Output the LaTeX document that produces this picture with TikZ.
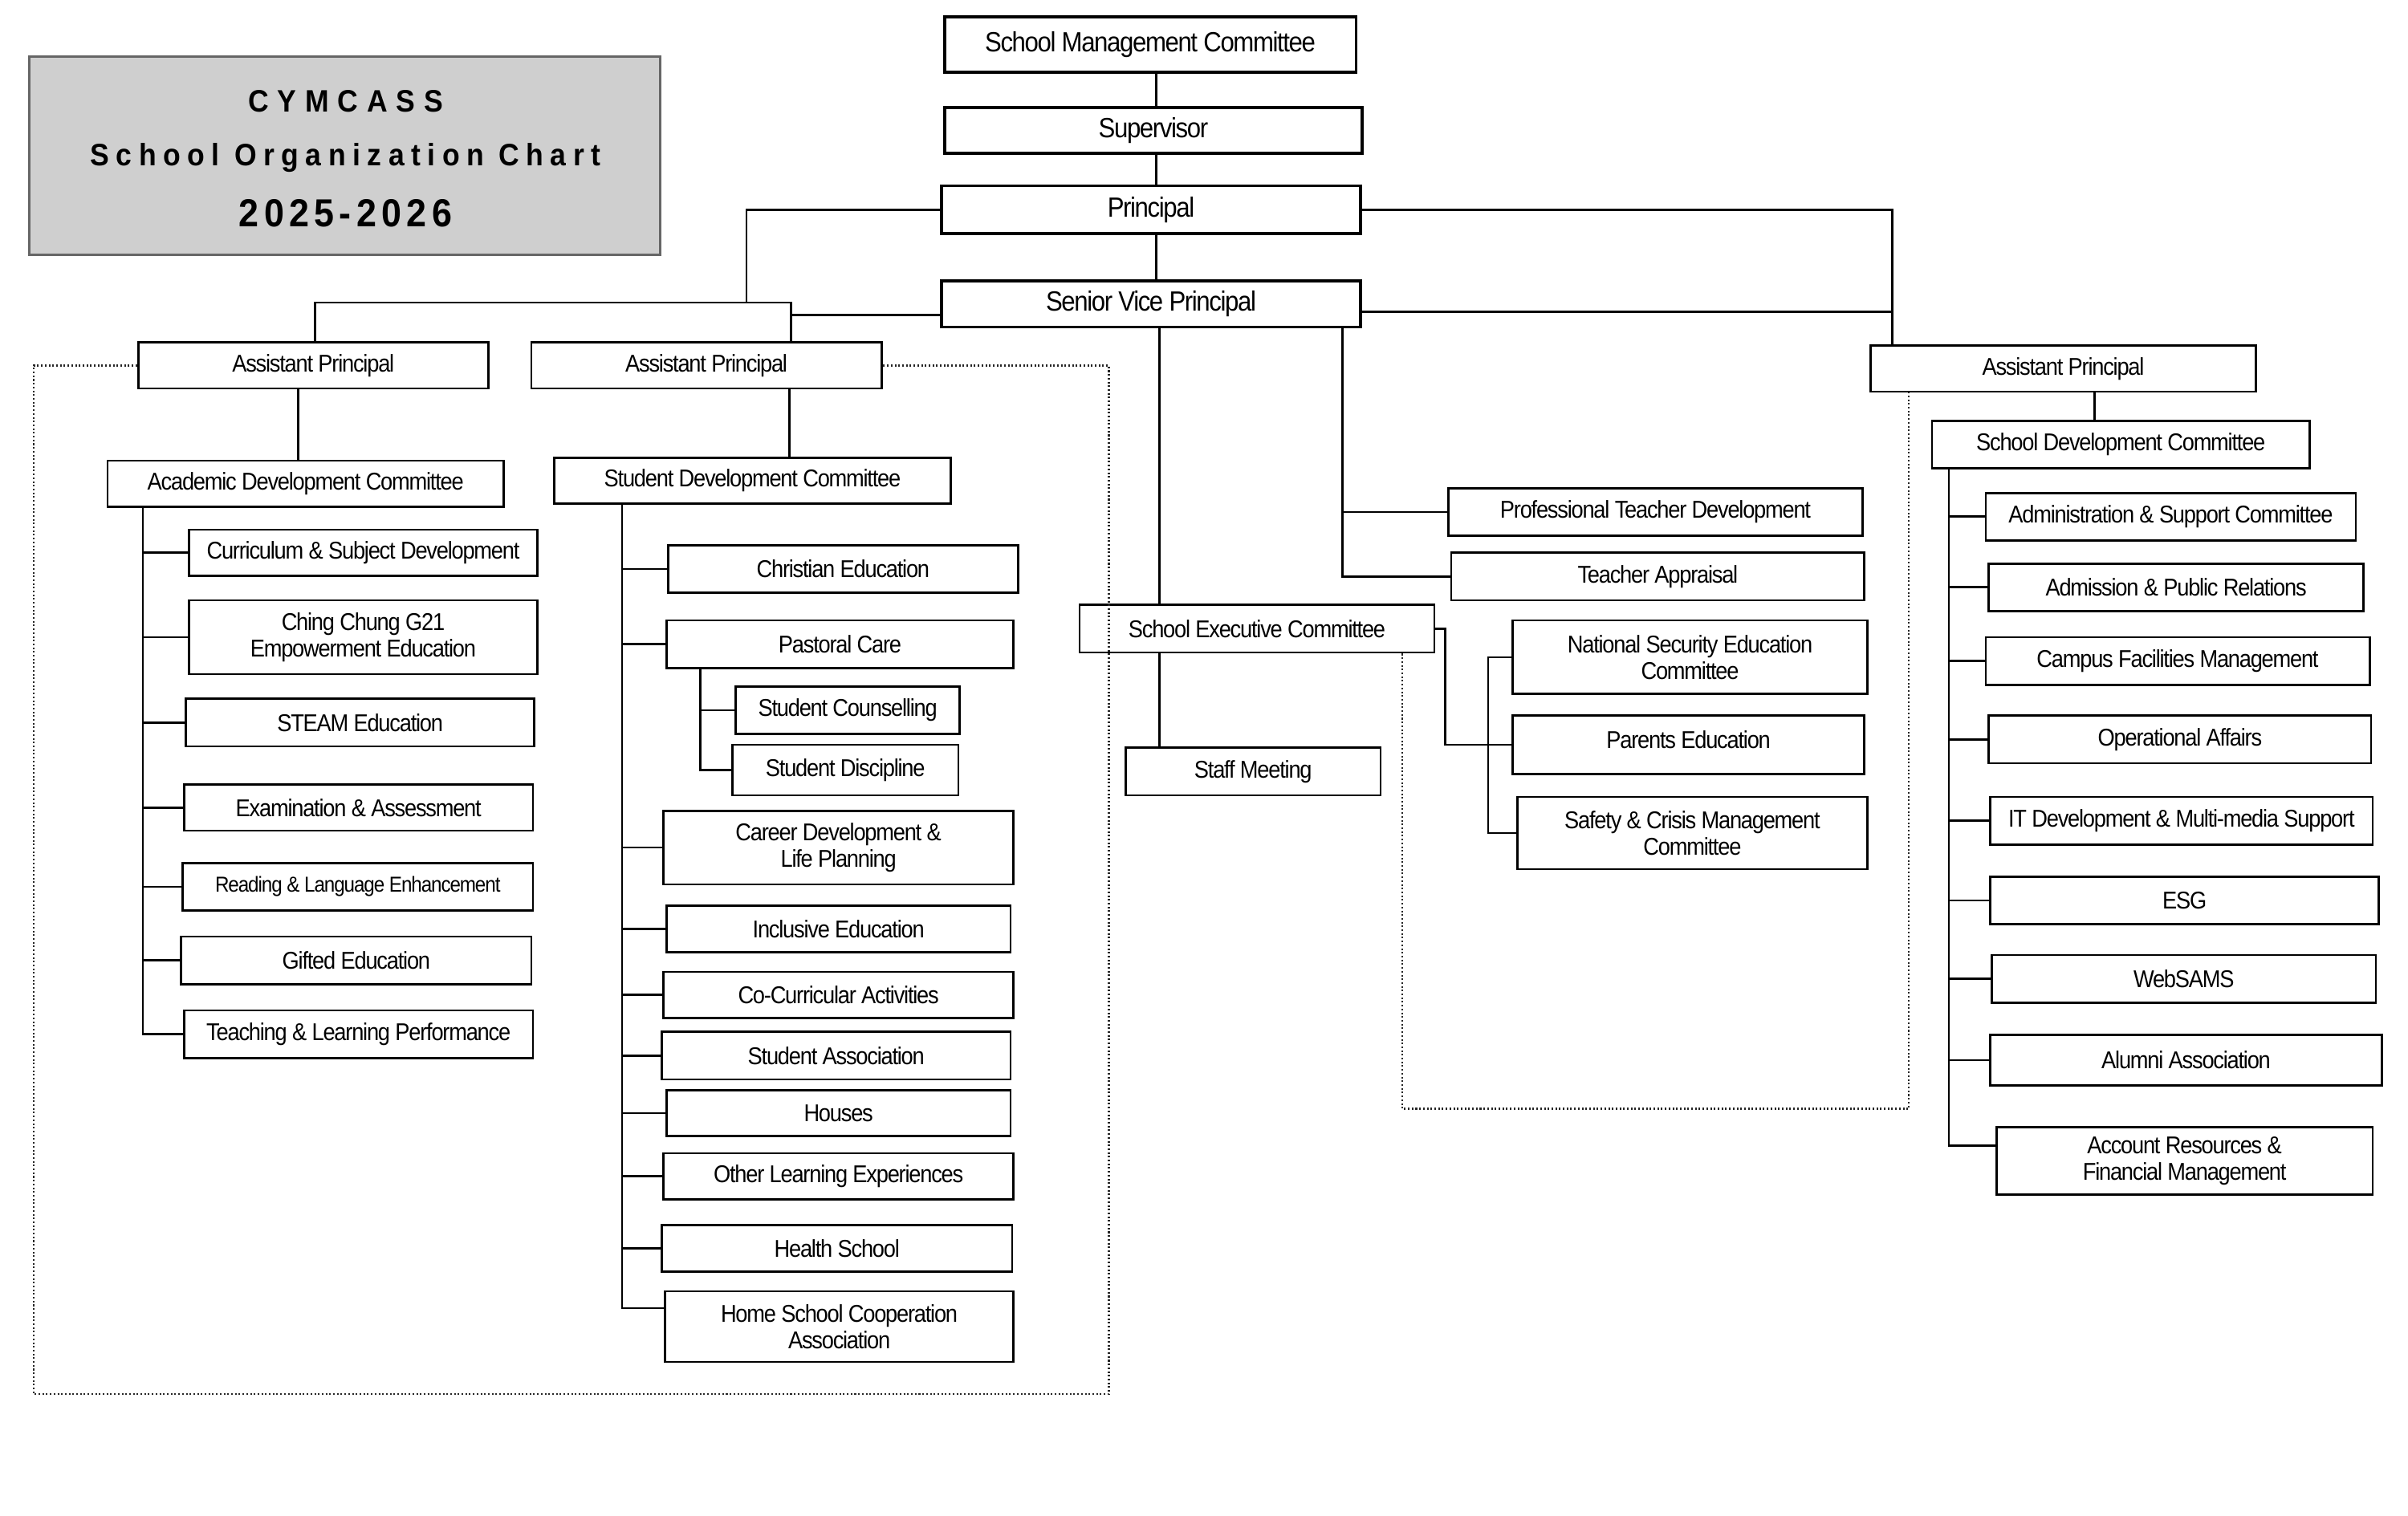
\documentclass[tikz,border=0pt]{standalone}
\usepackage{fontspec}
\setmainfont{Liberation Sans}[FakeStretch=0.9,LetterSpace=-4]
\newfontfamily\ttlfont{Liberation Sans}[FakeStretch=0.92]
\newcommand\obox[7][]{\node[box,#1,minimum width={(#4-#2)*0.02cm},minimum height={(#5-#3)*0.02cm}] (#6) at ({(#2+#4)/2},{(#3+#5)/2}) {#7};}
\begin{document}
\begin{tikzpicture}[x=0.02cm,y=-0.02cm,
  box/.style={draw,line width=0.8pt,inner sep=0pt,align=center,font=\fontsize{9}{9.8}\selectfont},
  topbox/.style={line width=1.1pt,font=\fontsize{10.3}{11}\selectfont},
  small/.style={font=\fontsize{8}{9}\selectfont},
  titlebox/.style={draw=black!60,fill=black!19,line width=1pt},
  conn/.style={line width=0.8pt},
  dotline/.style={draw=black!85,line width=0.7pt,dash pattern=on 0.6pt off 0.8pt}]
\useasboundingbox (0,0) rectangle (1568,987);

% title
\obox[titlebox]{19}{37}{430}{166}{ttl}{}
\node[font=\ttlfont\bfseries\fontsize{11.5}{12}\selectfont\addfontfeature{LetterSpace=28}] (t1) at (225,66) {CYMCASS};
\node[font=\ttlfont\bfseries\fontsize{11.5}{12}\selectfont\addfontfeature{LetterSpace=22}] (t2) at (225,103) {School Organization Chart};
\node[font=\ttlfont\bfseries\fontsize{14.5}{15}\selectfont\addfontfeature{LetterSpace=13}] (t3) at (225,139) {2025-2026};

% top column
\obox[topbox]{615}{11}{883}{47}{smc}{School Management Committee}
\obox[topbox]{615}{70}{887}{100}{sup}{Supervisor}
\obox[topbox]{613}{121}{886}{152}{pri}{Principal}
\obox[topbox]{613}{183}{886}{213}{svp}{Senior Vice Principal}
\coordinate (tx) at (753,0);
\draw[conn] (smc.south -| tx) -- (sup.north -| tx);
\draw[conn] (sup.south -| tx) -- (pri.north -| tx);
\draw[conn] (pri.south -| tx) -- (svp.north -| tx);

% assistant principals left
\obox{90}{223}{318}{253}{apa}{Assistant Principal}
\obox{346}{223}{574}{253}{apb}{Assistant Principal}
\coordinate (jP) at (486,197);
\coordinate (jL) at (205,197);
\coordinate (jR) at (515,197);
\draw[conn] (pri.west) -| (jP);
\draw[conn] (apa.north -| jL) -- (jL) -- (jR) -- (apb.north -| jR);
\draw[conn] ([yshift=-0.14cm]svp.west) -- ([yshift=-0.14cm]svp.west -| jR);

% academic development
\obox{70}{300}{328}{330}{adc}{Academic Development Committee}
\coordinate (ax) at (194,0);
\draw[conn] (apa.south -| ax) -- (adc.north -| ax);
\obox{123}{345}{350}{375}{a1}{Curriculum \& Subject Development}
\obox{123}{391}{350}{439}{a2}{Ching Chung G21\\ Empowerment Education}
\obox{121}{455}{348}{486}{a3}{STEAM Education}
\obox{120}{511}{347}{541}{a4}{Examination \& Assessment}
\obox[small]{119}{562}{347}{593}{a5}{Reading \& Language Enhancement}
\obox{118}{610}{346}{641}{a6}{Gifted Education}
\obox{120}{658}{347}{689}{a7}{Teaching \& Learning Performance}
\coordinate (as) at (93,330);
\foreach \c in {a1,a2,a3,a4,a5,a6,a7} {\draw[conn] (as) |- (\c.west);}

% student development
\obox{361}{298}{619}{328}{sdc}{Student Development Committee}
\coordinate (bx) at (514,0);
\draw[conn] (apb.south -| bx) -- (sdc.north -| bx);
\obox{435}{355}{663}{386}{b1}{Christian Education}
\obox{434}{404}{660}{435}{b2}{Pastoral Care}
\obox{479}{447}{625}{478}{b21}{Student Counselling}
\obox{477}{485}{624}{518}{b22}{Student Discipline}
\obox{432}{528}{660}{576}{b3}{Career Development \&\\ Life Planning}
\obox{434}{590}{658}{620}{b4}{Inclusive Education}
\obox{432}{633}{660}{663}{b5}{Co-Curricular Activities}
\obox{431}{672}{658}{703}{b6}{Student Association}
\obox{434}{710}{658}{740}{b7}{Houses}
\obox{432}{751}{660}{781}{b8}{Other Learning Experiences}
\obox{431}{798}{659}{828}{b9}{Health School}
\obox{433}{841}{660}{887}{b10}{Home School Cooperation\\ Association}
\coordinate (bs) at (405,328);
\foreach \c in {b1,b2,b3,b4,b5,b6,b7,b8,b9} {\draw[conn] (bs) |- (\c.west);}
\draw[conn] (bs) |- ([yshift=0.24cm]b10.west);
\coordinate (ps) at (456,0);
\draw[conn] (b2.south -| ps) |- (b21.west);
\draw[conn] (b2.south -| ps) |- (b22.west);

% senior vice principal branches
\obox{703}{394}{934}{425}{sec}{School Executive Committee}
\obox{733}{487}{899}{518}{stf}{Staff Meeting}
\coordinate (vx) at (755,0);
\draw[conn] (svp.south -| vx) -- (sec.north -| vx);
\draw[conn] (sec.south -| vx) -- (stf.north -| vx);
\obox{943}{318}{1213}{349}{ptd}{Professional Teacher Development}
\obox{945}{360}{1214}{391}{tap}{Teacher Appraisal}
\coordinate (wx) at (874,0);
\draw[conn] (svp.south -| wx) |- (tap.west);
\draw[conn] (ptd.west -| wx) -- (ptd.west);
\obox{985}{404}{1216}{452}{nse}{National Security Education\\ Committee}
\obox[text depth=0.14cm]{985}{466}{1214}{504}{par}{Parents Education}
\obox{988}{519}{1216}{566}{saf}{Safety \& Crisis Management\\ Committee}
\coordinate (sj) at (941,0);
\coordinate (nx) at (969,0);
\draw[conn] (sec.east) -| (par.west -| sj) -- (par.west);
\draw[conn] (nse.west) -- (nse.west -| nx) -- (saf.west -| nx) -- (saf.west);

% right assistant principal
\obox{1218}{225}{1469}{255}{apc}{Assistant Principal}
\coordinate (rx) at (1232,0);
\draw[conn] (pri.east) -| (apc.north -| rx);
\draw[conn] ([yshift=-0.1cm]svp.east) -- ([yshift=-0.1cm]svp.east -| rx);
\obox{1258}{274}{1504}{305}{sdv}{School Development Committee}
\coordinate (cx) at (1364,0);
\draw[conn] (apc.south -| cx) -- (sdv.north -| cx);
\obox{1293}{321}{1534}{352}{c1}{Administration \& Support Committee}
\obox{1295}{367}{1539}{398}{c2}{Admission \& Public Relations}
\obox{1293}{415}{1543}{446}{c3}{Campus Facilities Management}
\obox{1295}{466}{1544}{497}{c4}{Operational Affairs}
\obox{1296}{519}{1545}{550}{c5}{IT Development \& Multi-media Support}
\obox{1296}{571}{1549}{602}{c6}{ESG}
\obox{1297}{622}{1547}{653}{c7}{WebSAMS}
\obox{1296}{674}{1551}{707}{c8}{Alumni Association}
\obox{1300}{734}{1545}{778}{c9}{Account Resources \&\\ Financial Management}
\coordinate (cs) at (1269,305);
\foreach \c in {c1,c2,c3,c4,c5,c6,c7,c8} {\draw[conn] (cs) |- (\c.west);}
\draw[conn] (cs) |- ([yshift=0.2cm]c9.west);

% dotted groupings
\coordinate (dBL) at (22,908);
\coordinate (dTR) at (722,238);
\draw[dotline] (apa.west) -| (dBL) -| (dTR) -- (apb.east);
\coordinate (mBL) at (913,722);
\coordinate (mBR) at (1243,722);
\draw[dotline] (sec.south -| mBL) |- (mBR) -- (apc.south -| mBR);
\end{tikzpicture}
\end{document}
